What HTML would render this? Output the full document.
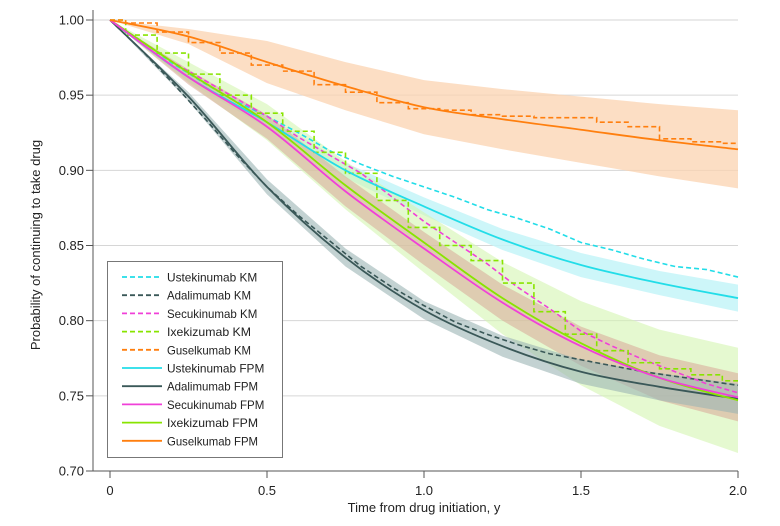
<!DOCTYPE html>
<html><head><meta charset="utf-8">
<style>
html,body{margin:0;padding:0;background:#fff;}
svg{display:block;font-family:"Liberation Sans",sans-serif;}
</style></head>
<body>
<svg id="chart" width="780" height="526" viewBox="0 0 780 526">
<g id="grid"></g>
<g id="bands"></g>
<g id="lines"></g>
<g id="axes"></g>
<text x="40" y="245" transform="rotate(-90 40 245)" text-anchor="middle" font-size="13" fill="#222">Probability of continuing to take drug</text>
<text x="424" y="512" text-anchor="middle" font-size="13" fill="#222">Time from drug initiation, y</text>
<g id="legend"></g>
</svg>
<script>
const xTicks = [0, 0.5, 1.0, 1.5, 2.0];
const xTickLabels = ["0", "0.5", "1.0", "1.5", "2.0"];
const yTicks = [0.70, 0.75, 0.80, 0.85, 0.90, 0.95, 1.00];
const yTickLabels = ["0.70", "0.75", "0.80", "0.85", "0.90", "0.95", "1.00"];
const seriesNames = ["Ustekinumab", "Adalimumab", "Secukinumab", "Ixekizumab", "Guselkumab"];
const seriesColors = ["#22dde8", "#3a5858", "#f040d8", "#88e400", "#ff7f0e"];
const bandColors = ["#c4f4f8", "#9bb4b4", "#d8a898", "#d4f5b0", "#fbd3b0"];
const bandOpacity = [0.85, 0.6, 0.55, 0.6, 0.75];

const fpmT = [0, 0.25, 0.5, 0.75, 1.0, 1.25, 1.5, 1.75, 2.0];
const ustFPM = [1.0, 0.962, 0.932, 0.900, 0.876, 0.854, 0.837, 0.825, 0.815];
const adaFPM = [1.0, 0.949, 0.889, 0.842, 0.807, 0.783, 0.766, 0.756, 0.748];
const secFPM = [1.0, 0.962, 0.929, 0.886, 0.848, 0.812, 0.783, 0.762, 0.749];
const ixeFPM = [1.0, 0.965, 0.932, 0.890, 0.852, 0.815, 0.785, 0.762, 0.747];
const gusFPM = [1.0, 0.989, 0.972, 0.956, 0.942, 0.934, 0.927, 0.920, 0.914];
const ustBandHalf = [0, 0.003, 0.004, 0.005, 0.006, 0.007, 0.008, 0.008, 0.009];
const adaBandHalf = [0, 0.003, 0.005, 0.006, 0.006, 0.007, 0.008, 0.009, 0.010];
const secBandHalf = [0, 0.005, 0.008, 0.010, 0.011, 0.012, 0.013, 0.015, 0.016];
const ixeBandHalf = [0, 0.007, 0.012, 0.016, 0.020, 0.024, 0.028, 0.032, 0.035];
const gusBandHalf = [0, 0.005, 0.014, 0.016, 0.018, 0.020, 0.022, 0.024, 0.026];

const kmT = [0, 0.1, 0.2, 0.3, 0.4, 0.5, 0.6, 0.7, 0.8, 0.9, 1.0, 1.1, 1.2, 1.3, 1.4, 1.5, 1.6, 1.7, 1.8, 1.9, 2.0];
const ustKM = [1.0, 0.986, 0.971, 0.958, 0.946, 0.936, 0.925, 0.913, 0.904, 0.896, 0.889, 0.882, 0.874, 0.868, 0.861, 0.852, 0.847, 0.841, 0.836, 0.834, 0.829];
const adaKM = [1.0, 0.980, 0.958, 0.935, 0.911, 0.889, 0.870, 0.853, 0.836, 0.822, 0.810, 0.799, 0.791, 0.784, 0.778, 0.774, 0.770, 0.766, 0.763, 0.760, 0.757];
const secKM = [1.0, 0.986, 0.972, 0.960, 0.948, 0.936, 0.922, 0.910, 0.898, 0.882, 0.866, 0.852, 0.838, 0.822, 0.808, 0.793, 0.783, 0.774, 0.766, 0.758, 0.752];
const ixeKM = [1.0, 0.990, 0.978, 0.964, 0.950, 0.938, 0.926, 0.912, 0.898, 0.880, 0.862, 0.850, 0.840, 0.825, 0.806, 0.791, 0.780, 0.772, 0.768, 0.764, 0.760];
const gusKM = [1.0, 0.998, 0.992, 0.985, 0.978, 0.970, 0.966, 0.957, 0.952, 0.945, 0.941, 0.940, 0.937, 0.936, 0.935, 0.935, 0.932, 0.929, 0.921, 0.919, 0.918];

const NS = "http://www.w3.org/2000/svg";
const X0 = 110, X1 = 738, Y1 = 20, Y0 = 471;
function xs(t){ return X0 + (t - 0) / 2 * (X1 - X0); }
function ys(v){ return Y1 + (1 - v) / 0.3 * (Y0 - Y1); }
function mk(tag, attrs, parent){
  const e = document.createElementNS(NS, tag);
  for (const k in attrs) e.setAttribute(k, attrs[k]);
  parent.appendChild(e);
  return e;
}
const grid = document.getElementById('grid');
const axes = document.getElementById('axes');
const bands = document.getElementById('bands');
const lines = document.getElementById('lines');
const legend = document.getElementById('legend');

yTicks.forEach((v, i) => {
  if (i > 0) {
    const g = mk('line', {x1: 93, x2: X1, y1: ys(v), y2: ys(v), stroke: '#d6d6d6', 'stroke-width': 1}, grid);
    
    
  }
  const tk = mk('line', {x1: 86, x2: 93, y1: ys(v), y2: ys(v), stroke: '#555', 'stroke-width': 1}, axes);
  
  
  const tl = mk('text', {x: 84, y: ys(v) + 4.5, 'text-anchor': 'end', 'font-size': 13, fill: '#222'}, axes);
  tl.textContent = yTickLabels[i];
  
  
});
xTicks.forEach((t, i) => {
  const tk = mk('line', {x1: xs(t), x2: xs(t), y1: Y0, y2: Y0 + 7, stroke: '#555', 'stroke-width': 1}, axes);
  
  
  const tl = mk('text', {x: xs(t), y: Y0 + 24, 'text-anchor': 'middle', 'font-size': 13, fill: '#222'}, axes);
  tl.textContent = xTickLabels[i];
  
  
});
const ya = mk('line', {x1: 93, x2: 93, y1: 10, y2: Y0, stroke: '#555', 'stroke-width': 1}, axes);


const xa = mk('line', {x1: 93, x2: X1, y1: Y0, y2: Y0, stroke: '#555', 'stroke-width': 1}, axes);



const fpmSets = [ustFPM, adaFPM, secFPM, ixeFPM, gusFPM];
const halfSets = [ustBandHalf, adaBandHalf, secBandHalf, ixeBandHalf, gusBandHalf];
const kmSets = [ustKM, adaKM, secKM, ixeKM, gusKM];
const kmStepped = [false, false, false, true, true];

function smooth(ts, vs){
  const pts = ts.map((t, i) => [xs(t), ys(vs[i])]);
  let d = 'M' + pts[0][0] + ',' + pts[0][1];
  for (let i = 0; i < pts.length - 1; i++){
    const p0 = pts[Math.max(0, i - 1)], p1 = pts[i], p2 = pts[i + 1], p3 = pts[Math.min(pts.length - 1, i + 2)];
    const c1 = [p1[0] + (p2[0] - p0[0]) / 6, p1[1] + (p2[1] - p0[1]) / 6];
    const c2 = [p2[0] - (p3[0] - p1[0]) / 6, p2[1] - (p3[1] - p1[1]) / 6];
    d += ' C' + c1[0] + ',' + c1[1] + ' ' + c2[0] + ',' + c2[1] + ' ' + p2[0] + ',' + p2[1];
  }
  return d;
}
function bandPath(ts, vs, hs){
  const up = ts.map((t, i) => [xs(t), ys(vs[i] + hs[i])]);
  const lo = ts.map((t, i) => [xs(t), ys(vs[i] - hs[i])]).reverse();
  return 'M' + up.concat(lo).map(p => p[0] + ',' + p[1]).join(' L') + 'Z';
}
[4, 0, 3, 2, 1].forEach(k => {
  const b = mk('path', {d: bandPath(fpmT, fpmSets[k], halfSets[k]), fill: bandColors[k], 'fill-opacity': bandOpacity[k], stroke: 'none'}, bands);
  
  
});
[0, 1, 2, 3, 4].forEach(k => {
  const vs = kmSets[k];
  let d;
  if (kmStepped[k]) {
    d = 'M' + xs(kmT[0]) + ',' + ys(vs[0]);
    for (let i = 1; i < kmT.length; i++){
      const xm = xs((kmT[i - 1] + kmT[i]) / 2);
      d += ' L' + xm + ',' + ys(vs[i - 1]) + ' L' + xm + ',' + ys(vs[i]);
    }
    d += ' L' + xs(kmT[kmT.length - 1]) + ',' + ys(vs[vs.length - 1]);
  } else {
    d = 'M' + kmT.map((t, i) => xs(t) + ',' + ys(vs[i])).join(' L');
  }
  const p = mk('path', {d: d, fill: 'none', stroke: seriesColors[k], 'stroke-width': 1.6, 'stroke-dasharray': '5,3'}, lines);
  
  
});
[0, 1, 3, 2, 4].forEach(k => {
  const p = mk('path', {d: smooth(fpmT, fpmSets[k]), fill: 'none', stroke: seriesColors[k], 'stroke-width': 1.8}, lines);
  
  
});

const box = mk('rect', {x: 107.5, y: 261.5, width: 175, height: 196, fill: '#fff', stroke: '#777', 'stroke-width': 1}, legend);


const kinds = ['KM', 'FPM'];
for (let j = 0; j < 2; j++){
  for (let k = 0; k < 5; k++){
    const row = j * 5 + k;
    const y = 277 + row * 18.2;
    const g = mk('g', {}, legend);
    
    
    const la = {x1: 122, x2: 162, y1: y, y2: y, stroke: seriesColors[k], 'stroke-width': 1.8};
    if (j === 0) la['stroke-dasharray'] = '5,3';
    mk('line', la, g);
    const t = mk('text', {x: 167, y: y + 4.5, 'font-size': 12, fill: '#222', textLength: seriesNames[k].length * 6.3 + (j ? 28 : 21), lengthAdjust: 'spacingAndGlyphs'}, g);
    t.textContent = seriesNames[k] + ' ' + kinds[j];
  }
}
</script>
</body></html>
